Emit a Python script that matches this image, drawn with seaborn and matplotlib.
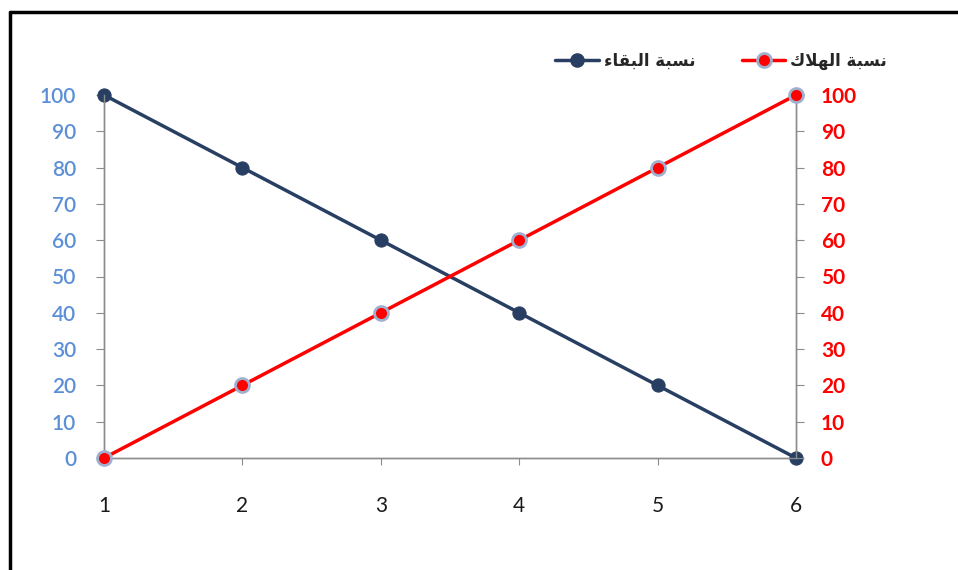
import matplotlib
matplotlib.use("Agg")
import matplotlib.pyplot as plt
import seaborn as sns
import pandas as pd
from matplotlib.lines import Line2D

# data
steps = [1, 2, 3, 4, 5, 6]
survival = [100, 80, 60, 40, 20, 0]   # نسبة البقاء
loss = [0, 20, 40, 60, 80, 100]       # نسبة الهلاك
y_ticks = [0, 10, 20, 30, 40, 50, 60, 70, 80, 90, 100]

# Arabic labels written in presentation forms, visual order (matplotlib does no shaping)
label_survival = "\uFE80\uFE8E\uFED8\uFE92\uFEDF\uFE8D \uFE94\uFE92\uFEB4\uFEE7"  # نسبة البقاء
label_loss = "\uFED9\uFEFC\uFEEC\uFEDF\uFE8D \uFE94\uFE92\uFEB4\uFEE7"           # نسبة الهلاك

NAVY = "#283F63"
RED = "#FF0000"
BLUE_TXT = "#5B8FD6"
GRAY = "#8C8C8C"

sns.set_style("white")
plt.rcParams['font.family'] = ['Lato', 'DejaVu Sans']

df = pd.DataFrame({"step": steps, "survival": survival, "loss": loss})

fig = plt.figure(figsize=(9.58, 5.70), dpi=100)
ax = fig.add_axes([104 / 958, 1 - 458 / 570, (796 - 104) / 958, (458 - 95) / 570])

sns.lineplot(data=df, x="step", y="survival", ax=ax, color=NAVY, lw=2.5,
             marker="o", markersize=9.5, markerfacecolor=NAVY, markeredgecolor=NAVY,
             clip_on=False, zorder=3)

ax2 = ax.twinx()
sns.lineplot(data=df, x="step", y="loss", ax=ax2, color=RED, lw=2.5,
             marker="o", markersize=10, markerfacecolor=RED, markeredgecolor="#9FB0CF",
             markeredgewidth=2.0, clip_on=False, zorder=3)

for a in (ax, ax2):
    a.set_xlim(1, 6)
    a.set_ylim(0, 100)
    a.set_yticks(y_ticks)
    a.set_xlabel("")
    a.set_ylabel("")
    a.spines['top'].set_visible(False)
    for s in ('left', 'right', 'bottom'):
        a.spines[s].set_color(GRAY)
        a.spines[s].set_linewidth(1.0)
    a.patch.set_visible(False)

ax.set_xticks(steps)
ax.tick_params(axis='x', bottom=True, length=5, color=GRAY, labelsize=15,
               labelcolor="#1A1A1A", pad=22)
ax.tick_params(axis='y', left=True, length=6, color=GRAY, labelsize=15,
               labelcolor=BLUE_TXT, pad=14)
for t in ax.get_yticklabels():
    t.set_fontweight("semibold")

ax2.tick_params(axis='y', right=True, length=6, color=GRAY, labelsize=15,
                labelcolor=RED, pad=12)
for t in ax2.get_yticklabels():
    t.set_fontweight("bold")

# legend: navy entry first, then red
handles = [
    Line2D([], [], color=NAVY, lw=2.5, marker="o", markersize=9.5,
           markerfacecolor=NAVY, markeredgecolor=NAVY),
    Line2D([], [], color=RED, lw=2.5, marker="o", markersize=10,
           markerfacecolor=RED, markeredgecolor="#9FB0CF", markeredgewidth=2.0),
]
fig.legend(handles, [label_survival, label_loss], ncol=2, frameon=False,
           loc="center right", bbox_to_anchor=(902 / 958, 1 - 61 / 570),
           prop={'family': ['DejaVu Sans'], 'weight': 'bold', 'size': 12},
           handlelength=2.6, handletextpad=0.3, columnspacing=2.8)

# outer frame: left and top edges only
fig.add_artist(Line2D([10 / 958, 10 / 958], [0, 1 - 12 / 570], color="black", lw=2.5,
                      transform=fig.transFigure))
fig.add_artist(Line2D([10 / 958, 1], [1 - 12 / 570, 1 - 12 / 570], color="black", lw=2.5,
                      transform=fig.transFigure))

fig.savefig("out.png", dpi=100)
